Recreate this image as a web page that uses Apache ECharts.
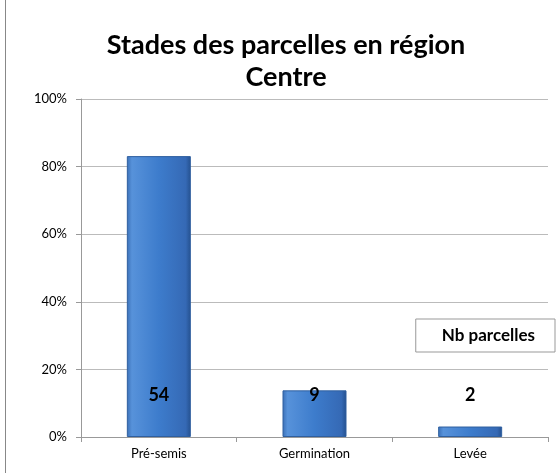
<!DOCTYPE html>
<html>
<head>
<meta charset="utf-8" />
<title>Stades des parcelles en région Centre</title>
<script src="https://cdn.jsdelivr.net/npm/echarts@6/dist/echarts.min.js"></script>
<style>
  html, body { margin: 0; padding: 0; background: #fff; }
  #main { width: 558px; height: 473px; }
</style>
</head>
<body>
<div id="main"></div>
<script>
// données
var stades = ['Pré-semis', 'Germination', 'Levée'];
var partParcelles = [83.1, 13.8, 3.1];   // % des parcelles
var nbParcelles = [54, 9, 2];
var yTicks = [0, 20, 40, 60, 80, 100];

var chart = echarts.init(document.getElementById('main'));
var font = 'Lato, "Open Sans", sans-serif';

chart.setOption({
  backgroundColor: '#fff',
  animation: false,
  title: {
    text: 'Stades des parcelles en région\nCentre',
    left: 281,
    top: 24,
    textAlign: 'center',
    textStyle: {
      fontFamily: font,
      fontSize: 27,
      fontWeight: 'bold',
      color: '#000',
      lineHeight: 32
    }
  },
  legend: {
    data: ['Nb parcelles'],
    right: 3,
    top: 319,
    icon: 'rect',
    itemWidth: 0,
    itemHeight: 0,
    itemGap: 0,
    padding: [8, 20, 8, 20],
    borderColor: '#999',
    borderWidth: 1,
    selectedMode: false,
    textStyle: { fontFamily: font, fontSize: 17, fontWeight: 'bold', color: '#000' }
  },
  graphic: [{
    type: 'line',
    shape: { x1: 5.5, y1: 0, x2: 5.5, y2: 473 },
    style: { stroke: '#888', lineWidth: 1 }
  }],
  grid: { left: 81, right: 10, top: 99, bottom: 36 },
  xAxis: {
    type: 'category',
    data: stades,
    axisLine: { lineStyle: { color: '#999' } },
    axisTick: { show: true, alignWithLabel: false, length: 5, lineStyle: { color: '#999' } },
    axisLabel: { fontFamily: font, fontSize: 13, color: '#000', margin: 10 }
  },
  yAxis: {
    type: 'value',
    min: yTicks[0],
    max: yTicks[yTicks.length - 1],
    interval: yTicks[1] - yTicks[0],
    axisLine: { show: true, lineStyle: { color: '#999' } },
    axisTick: { show: true, length: 5, lineStyle: { color: '#999' } },
    splitLine: { lineStyle: { color: '#bbb' } },
    axisLabel: {
      fontFamily: font, fontSize: 13, color: '#000', margin: 14,
      formatter: function (v) { return v + '%'; }
    }
  },
  series: [{
    name: 'Nb parcelles',
    type: 'bar',
    barWidth: 64,
    data: partParcelles,
    itemStyle: {
      color: new echarts.graphic.LinearGradient(0, 0, 1, 0, [
        { offset: 0, color: '#3a6fb6' },
        { offset: 0.08, color: '#5792da' },
        { offset: 0.5, color: '#3d7ccc' },
        { offset: 0.92, color: '#3569b5' },
        { offset: 1, color: '#24508e' }
      ]),
      borderColor: '#2f5f9f',
      borderWidth: 1
    },
    label: {
      show: true,
      position: 'insideBottom',
      distance: 33,
      fontFamily: font,
      fontSize: 18,
      fontWeight: 'bold',
      color: '#000',
      formatter: function (p) { return nbParcelles[p.dataIndex]; }
    }
  }]
});
</script>
</body>
</html>
